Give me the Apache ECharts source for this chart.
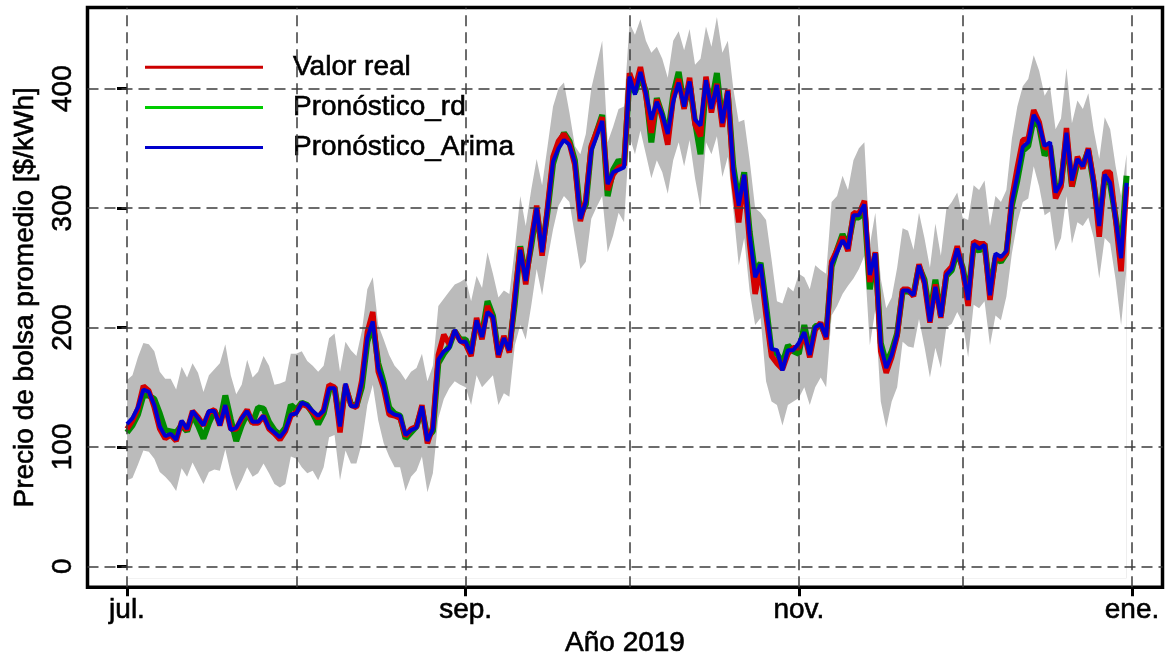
<!DOCTYPE html>
<html><head><meta charset="utf-8">
<script src="https://cdn.jsdelivr.net/npm/echarts@6/dist/echarts.min.js"></script>
<style>html,body{margin:0;padding:0;background:#fff}#c{width:1171px;height:663px}</style>
</head><body><div id="c"></div>
<script>
// Daily values, 1 Jul 2019 (day 0) .. 31 Dec 2019 (day 183)
const realVals=[115,122,132,151,147,133,115,107,110,105,
 121,114,130,125,118,129,131,118,134,115,
 115,124,131,120,120,126,115,111,106,113,
 126,129,136,134,129,124,131,152,150,112,
 152,135,133,156,196,213,163,149,127,126,
 124,109,115,117,135,103,117,177,194,186,
 197,189,186,176,208,190,218,207,175,193,
 179,226,267,236,272,302,260,301,343,356,
 362,354,336,289,307,352,364,376,315,328,
 334,336,413,400,418,394,363,391,375,353,
 392,408,383,409,370,360,410,380,404,368,
 399,325,288,327,270,228,250,210,176,170,
 165,178,183,183,195,175,198,204,190,255,
 265,276,264,296,295,306,238,263,180,162,
 175,193,232,232,226,253,237,204,236,208,
 246,251,268,248,218,272,270,270,223,260,
 257,262,308,334,357,358,382,372,350,352,
 308,318,367,318,343,333,350,322,276,330,
 330,290,247,318];
const rdVals=[112,118,127,143,143,140,128,114,113,112,
 118,113,127,118,107,120,130,121,143,123,
 105,118,128,120,133,132,121,114,110,116,
 135,131,137,135,128,119,128,147,150,120,
 150,136,134,150,188,203,170,154,133,128,
 126,107,112,117,132,108,113,170,178,184,
 197,190,190,180,204,194,222,210,178,190,
 183,220,268,242,268,298,265,297,337,352,
 363,356,340,294,303,350,364,378,310,332,
 340,336,408,397,410,398,355,392,378,360,
 395,414,385,405,372,345,404,387,413,372,
 396,335,305,330,280,245,254,219,180,178,
 170,185,180,178,202,180,201,202,193,251,
 265,278,268,292,292,301,232,262,187,170,
 180,195,230,230,228,251,240,210,240,210,
 243,248,264,250,226,268,264,270,230,258,
 255,262,302,323,348,352,375,368,344,352,
 316,320,360,318,338,336,348,320,288,326,
 320,292,262,327];
const arimaVals=[119,124,133,148,146,135,117,109,111,106,
 122,115,130,124,118,130,130,118,135,114,
 116,124,130,121,121,126,116,112,108,114,
 127,128,137,135,130,126,130,149,149,117,
 153,134,134,154,191,205,166,152,130,127,
 126,110,114,116,134,105,115,173,180,183,
 198,188,188,178,206,192,213,209,177,191,
 181,222,265,239,270,300,263,299,339,350,
 357,353,338,291,305,348,360,373,320,330,
 332,334,410,395,414,396,374,389,378,362,
 389,405,385,406,374,369,407,383,403,371,
 398,332,302,328,277,242,253,216,182,181,
 164,181,181,187,196,177,200,203,192,253,
 263,273,266,294,294,303,244,262,185,166,
 177,194,231,231,227,252,238,205,234,209,
 244,249,266,249,223,270,266,269,227,262,
 259,264,305,327,351,355,378,370,352,355,
 313,321,363,323,341,335,349,321,285,328,
 321,291,258,321];
const upperVals=[156,160,175,187,186,180,163,157,157,148,
 167,158,170,162,146,160,165,170,186,160,
 144,152,173,158,163,176,168,152,153,155,
 178,178,180,172,168,163,168,191,195,163,
 188,181,176,197,232,242,202,190,177,168,
 163,156,163,166,178,155,168,218,224,230,
 236,238,241,222,243,233,263,245,225,231,
 228,266,310,285,315,341,319,352,385,400,
 405,380,352,345,362,400,420,440,355,368,
 383,385,455,445,458,440,430,435,425,409,
 440,448,432,450,420,425,452,435,460,430,
 440,400,372,374,340,300,296,290,257,222,
 220,234,230,245,242,232,252,248,245,305,
 310,327,315,340,350,355,269,296,241,216,
 225,250,283,281,265,296,275,250,287,260,
 299,305,313,292,290,319,315,323,285,310,
 305,315,358,385,402,408,428,415,394,402,
 366,375,417,371,390,383,396,365,341,376,
 366,335,310,345];
const lowerVals=[72,74,85,97,96,90,79,75,70,63,
 82,75,87,78,69,79,81,80,98,78,
 63,72,83,75,78,86,78,69,66,69,
 92,90,83,78,80,72,83,108,110,72,
 97,86,86,103,135,152,122,103,92,83,
 83,63,75,80,92,62,78,124,140,149,
 155,152,150,135,160,150,155,160,135,145,
 142,185,202,190,218,249,227,257,282,302,
 310,305,277,249,255,291,301,310,263,277,
 296,288,360,345,365,345,325,340,330,312,
 340,355,335,357,325,300,355,345,360,326,
 343,299,252,275,230,202,208,155,138,135,
 118,135,138,141,150,135,150,158,150,210,
 218,228,235,241,249,260,185,215,138,116,
 138,150,188,184,183,207,184,158,183,166,
 200,203,213,204,175,219,216,222,185,210,
 206,226,262,288,305,308,335,318,294,297,
 264,275,310,270,288,285,292,275,241,275,
 270,240,202,250];

const monthStarts=[0,31,62,92,123,153,184];
const labelDays=[0,62,123,184];
const labelTexts=['jul.','sep.','nov.','ene.'];
const yTicks=[0,100,200,300,400];
const seriesNames=['Valor real','Pronóstico_rd','Pronóstico_Arima'];

const toXY=arr=>arr.map((v,i)=>[i,v]);
const FONT='"Liberation Sans", Arial, Helvetica, sans-serif';
const txt={fontSize:28,color:'#000',fontFamily:FONT,textBorderColor:'#000',textBorderWidth:0.6};

const chart=echarts.init(document.getElementById('c'),null,{renderer:'canvas'});
chart.setOption({
  animation:false,
  backgroundColor:'#fff',
  grid:{left:87.5,right:8.5,top:7.5,bottom:73,show:true,borderColor:'#000',borderWidth:3.5,backgroundColor:'transparent'},
  xAxis:{type:'value',min:-7.23,max:189.58,
    axisLine:{show:false,onZero:false},splitLine:{show:false},
    axisTick:{show:true,customValues:labelDays,length:9,lineStyle:{color:'#000',width:3}},
    axisLabel:Object.assign({customValues:labelDays,margin:9,
      formatter:v=>{const k=labelDays.indexOf(Math.round(v));return k>=0?labelTexts[k]:'';}},txt),
    name:'Año 2019',nameLocation:'middle',nameGap:39,nameTextStyle:txt},
  yAxis:{type:'value',min:-17.5,max:467.9,
    axisLine:{show:false},splitLine:{show:false},
    axisTick:{show:true,customValues:yTicks,length:10,lineStyle:{color:'#000',width:3}},
    axisLabel:Object.assign({customValues:yTicks,rotate:90,margin:10},txt),
    name:'Precio de bolsa promedio [$/kWh]',nameLocation:'middle',nameRotate:90,nameGap:48,nameTextStyle:txt},
  legend:{orient:'vertical',left:145,top:53,padding:0,icon:'rect',itemWidth:118,itemHeight:3,itemGap:11.5,
    data:[
      {name:seriesNames[0],itemStyle:{color:'#cc0000'}},
      {name:seriesNames[1],itemStyle:{color:'#00cc00'}},
      {name:seriesNames[2],itemStyle:{color:'#0000cc'}}
    ],
    textStyle:Object.assign({padding:[0,0,0,25],lineHeight:28},txt)},
  series:[
    {name:'bandHigh',type:'line',data:toXY(upperVals),symbol:'none',silent:true,
      lineStyle:{width:0,opacity:0},areaStyle:{color:'#bbbbbb',opacity:1,origin:-10},z:1},
    {name:'bandLow',type:'line',data:toXY(lowerVals),symbol:'none',silent:true,
      lineStyle:{width:0,opacity:0},areaStyle:{color:'#ffffff',opacity:1,origin:-10},z:1},
    {name:'gridLines',type:'line',data:[[0,0]],symbol:'none',silent:true,lineStyle:{opacity:0},z:2,
      markLine:{silent:true,symbol:['none','none'],label:{show:false},animation:false,
        lineStyle:{type:[11,6],color:'#3c3c3c',width:1.5},
        data:monthStarts.map(d=>({xAxis:d})).concat(yTicks.map(v=>({yAxis:v})))}},
    {name:seriesNames[1],type:'line',data:toXY(rdVals),symbol:'none',z:3,
      lineStyle:{color:'#008c00',width:6},itemStyle:{color:'#008c00'}},
    {name:seriesNames[0],type:'line',data:toXY(realVals),symbol:'none',z:4,
      lineStyle:{color:'#d40000',width:5.5},itemStyle:{color:'#d40000'}},
    {name:seriesNames[2],type:'line',data:toXY(arimaVals),symbol:'none',z:5,
      lineStyle:{color:'#0000d0',width:4},itemStyle:{color:'#0000d0'}}
  ]
});
</script></body></html>
